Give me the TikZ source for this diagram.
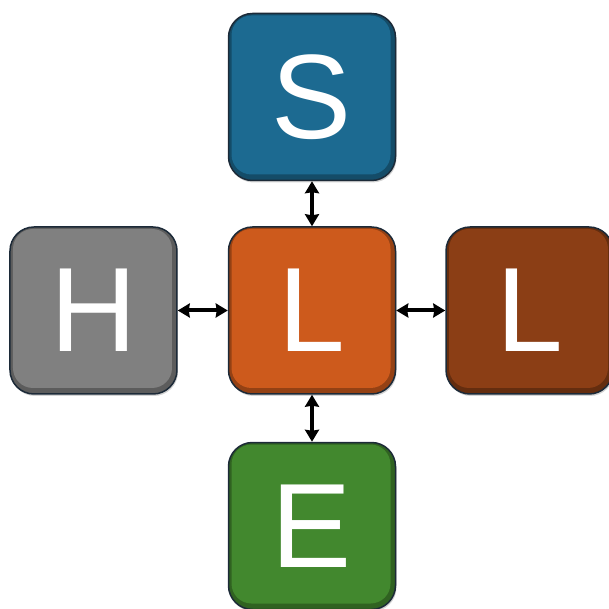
\documentclass[tikz,border=0pt]{standalone}
\usepackage{fontspec}
\setmainfont{Liberation Sans}
\usetikzlibrary{positioning,arrows.meta,shadows}
\definecolor{softblue}{RGB}{28,106,145}
\definecolor{liveorange}{RGB}{205,90,28}
\definecolor{peerbrown}{RGB}{139,62,21}
\definecolor{hardgray}{RGB}{128,128,128}
\definecolor{envgreen}{RGB}{66,136,46}
\definecolor{rim}{RGB}{28,42,56}

\begin{document}
\begin{tikzpicture}[x=1pt,y=1pt]
    \useasboundingbox (-312,-298.5) rectangle (296,310.5);
    \begin{scope}[node distance=47pt, rounded corners=24pt, text centered,
    		tile/.style={rectangle,draw=rim,line width=1.5pt,minimum size=167pt,text=white,
    			font=\fontsize{120}{120}\selectfont,fill=#1!72!black,
    			drop shadow={shadow xshift=1pt,shadow yshift=-2pt,opacity=0.35},
    			path picture={\fill[#1,rounded corners=20pt]
    				([shift={(3pt,-2pt)}]path picture bounding box.north west) rectangle
    				([shift={(-5pt,6pt)}]path picture bounding box.south east);}},
    		arrow/.style={black, line width=4pt,
    			{Stealth[length=12pt,width=14pt,inset=1pt]}-{Stealth[length=12pt,width=14pt,inset=1pt]}}]
    
    \node[tile=liveorange](live) at (0,0)
    {L};
    \node[tile=softblue,node distance=45pt,above=of live](soft)
    {S};
    \node[tile=hardgray,node distance=50pt,left=of live](hard)
    {H};
    \node[tile=peerbrown,node distance=49pt,right=of live](peer)
    {L};
    \node[tile=envgreen,below=of live](env)
    {E};
    
    \draw[arrow]
    (soft) edge (live)
    (hard) edge (live)
    (peer) edge (live)
    (env) edge (live);
    
    \end{scope}
\end{tikzpicture}
\end{document}
